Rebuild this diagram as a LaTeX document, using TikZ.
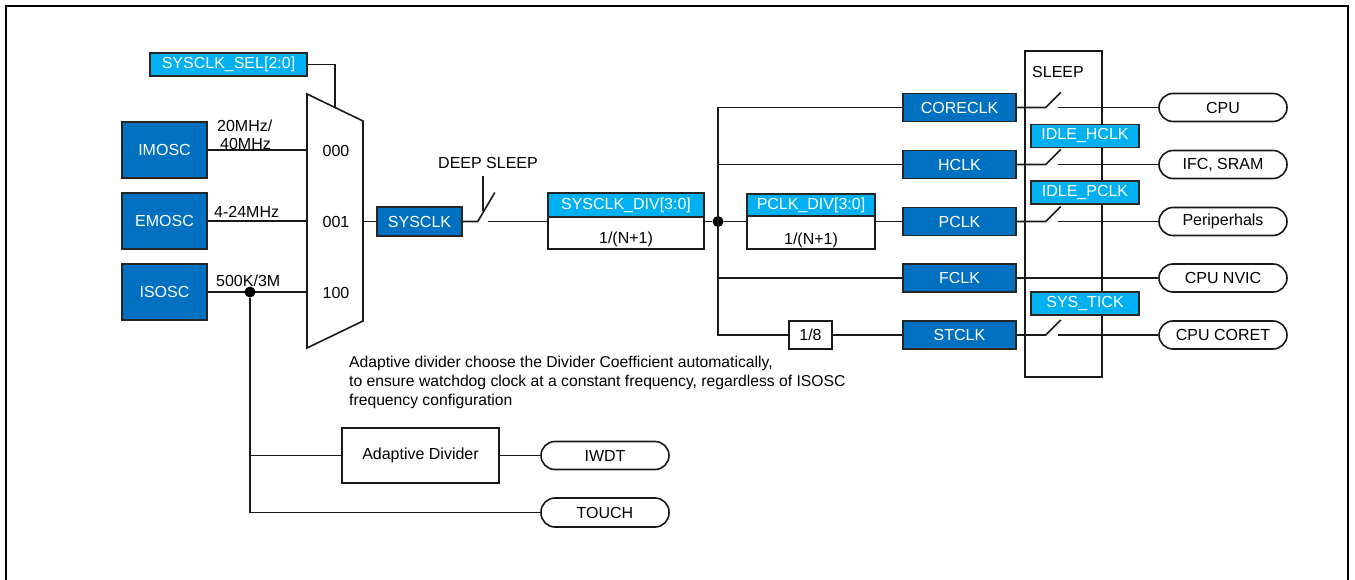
\documentclass[tikz,border=0pt]{standalone}
\usepackage{fontspec}
\setmainfont{Liberation Sans}
\usetikzlibrary{calc}
\definecolor{dkblue}{HTML}{0070C0}
\definecolor{ltblue}{HTML}{00B0F0}
\begin{document}
\begin{tikzpicture}[x=1pt,y=-1pt,
  every node/.style={font=\fontsize{16}{19}\selectfont, inner sep=0pt},
  wire/.style={line width=1.6pt, draw=black!90},
  dkbox/.style={draw=black!85, line width=1.6pt, fill=dkblue, text=white, minimum width=#1, minimum height=28},
  dkbox/.default=113,
  ltbox/.style={draw=black!85, line width=1.6pt, fill=ltblue, text=white, minimum width=#1, minimum height=23},
  wbox/.style={draw=black!90, line width=1.6pt, fill=white},
  stad/.style={draw=black!90, line width=1.6pt, rounded corners=14pt, minimum width=128, minimum height=28},
  dot/.style={circle, fill=black, minimum size=11, inner sep=0pt}
]
\useasboundingbox (0,0) rectangle (1355,580);
% frame
\draw[line width=2.6pt] (6,582) -- (6,6) -- (1348,6) -- (1348,582);

% oscillators
\node[dkbox=85, minimum height=56] (imosc) at (164.5,150) {IMOSC};
\node[dkbox=85, minimum height=56] (emosc) at (164.5,221) {EMOSC};
\node[dkbox=85, minimum height=56] (isosc) at (164.5,292) {ISOSC};

% mux
\draw[wire, fill=white] (307,94) -- (363,121) -- (363,321) -- (307,348) -- cycle;
\coordinate (m0) at (307,150);
\coordinate (m1) at (307,221);
\coordinate (m2) at (307,292);
\coordinate (mtop) at (335,107.5);
\coordinate (mout) at (363,221.5);
\node (l000) at (336,151) {000};
\node (l001) at (336,222) {001};
\node (l100) at (336,293) {100};

\node[ltbox=157] (sel) at (228.5,64.5) {SYSCLK\_SEL[2:0]};
\draw[wire] (sel.east) -| (mtop);

\draw[wire] (imosc.east) -- (m0);
\draw[wire] (emosc.east) -- (m1);
\draw[wire] (isosc.east) -- (m2);
\node[anchor=west, align=left, font=\fontsize{16}{18}\selectfont] (f0) at (217,135) {20MHz/\\\hspace*{3pt}40MHz};
\node[anchor=west] (f1) at (214,212) {4-24MHz};
\node[anchor=west] (f2) at (216,281) {500K/3M};
\node[dot] (isodot) at (250,292) {};

% sysclk
\node[dkbox=85, minimum height=29] (sysclk) at (419.5,221.5) {SYSCLK};
\draw[wire] (mout) -- (sysclk.west);
\draw[wire] (sysclk.east) -- ++(15,0) -- ++(17,-29);
\coordinate (dsa) at (483,176);
\coordinate (dsb) at (483,211);
\draw[wire] (dsa) -- (dsb);
\node (ds) at (488,163) {DEEP SLEEP};

% SYSCLK_DIV
\node[wbox, minimum width=156, minimum height=32] (sdivb) at (626,233) {};
\node[ltbox=156, minimum height=24] (sdivh) at (626,205) {SYSCLK\_DIV[3:0]};
\node (sdivt) at (626,239) {1/(N+1)};
\coordinate (sw1) at (488,221.5);
\draw[wire] (sw1) -- (sdivb.west |- sw1);

\node[dot] (bdot) at (718,221.5) {};
\draw[wire] (sdivb.east |- bdot) -- (bdot);

% clocks
\node[dkbox] (core) at (959.5,107.5) {CORECLK};
\node[dkbox] (hclk) at (959.5,164.5) {HCLK};
\node[dkbox] (pclk) at (959.5,221.5) {PCLK};
\node[dkbox] (fclk) at (959.5,278) {FCLK};
\node[dkbox] (stclk) at (959.5,335) {STCLK};

% PCLK_DIV
\node[wbox, minimum width=128, minimum height=33] (pdivb) at (811,232.5) {};
\node[ltbox=128, minimum height=22] (pdivh) at (811,205) {PCLK\_DIV[3:0]};
\node (pdivt) at (811,240) {1/(N+1)};
\node[wbox, minimum width=43, minimum height=28] (div8) at (810.5,335) {1/8};

\draw[wire] (core.west) -- (core.west -| bdot) -- (stclk.west -| bdot) -- (div8.west);
\draw[wire] (div8.east) -- (stclk.west);
\draw[wire] (hclk.west) -- (hclk.west -| bdot);
\draw[wire] (fclk.west) -- (fclk.west -| bdot);
\draw[wire] (bdot) -- (pdivb.west |- bdot);
\draw[wire] (pdivb.east |- pclk.west) -- (pclk.west);

% sleep column
\node[draw=black!90, line width=1.6pt, minimum width=77, minimum height=326] (col) at (1063.5,214) {};
\node[anchor=west] (sleep) at (1032,72) {SLEEP};
\node[ltbox=108] (ih) at (1085,136) {IDLE\_HCLK};
\node[ltbox=108] (ip) at (1085,192.5) {IDLE\_PCLK};
\node[ltbox=108] (st) at (1085,303.5) {SYS\_TICK};

% destinations
\node[stad] (cpu) at (1223,107.5) {CPU};
\node[stad] (ifc) at (1223,164.5) {IFC, SRAM};
\node[stad] (per) at (1223,221.5) {Periperhals};
\node[stad] (nvic) at (1223,278) {CPU NVIC};
\node[stad] (coret) at (1223,335) {CPU CORET};

\foreach \a/\b in {core/cpu, hclk/ifc, pclk/per, stclk/coret}{
  \draw[wire] (\a.east) -- ++(29,0) -- ++(15,-15);
  \draw[wire] (\b.west) -- ++(-100,0);
}
\draw[wire] (fclk.east) -- (nvic.west);

% bottom
\node[anchor=north west, align=left, font=\fontsize{15.7}{19}\selectfont] (note) at (349,356) {Adaptive divider choose the Divider Coefficient automatically,\\to ensure watchdog clock at a constant frequency, regardless of ISOSC\\frequency configuration};
\node[wbox, minimum width=157, minimum height=55] (adiv) at (420.5,455.5) {Adaptive Divider};
\node[stad] (iwdt) at (605,455.5) {IWDT};
\node[stad, minimum height=29] (touch) at (605,512.5) {TOUCH};
\draw[wire] (isodot) |- (touch.west);
\draw[wire] (adiv.west -| isodot) -- (adiv.west);
\draw[wire] (adiv.east) -- (iwdt.west);
\end{tikzpicture}
\end{document}
